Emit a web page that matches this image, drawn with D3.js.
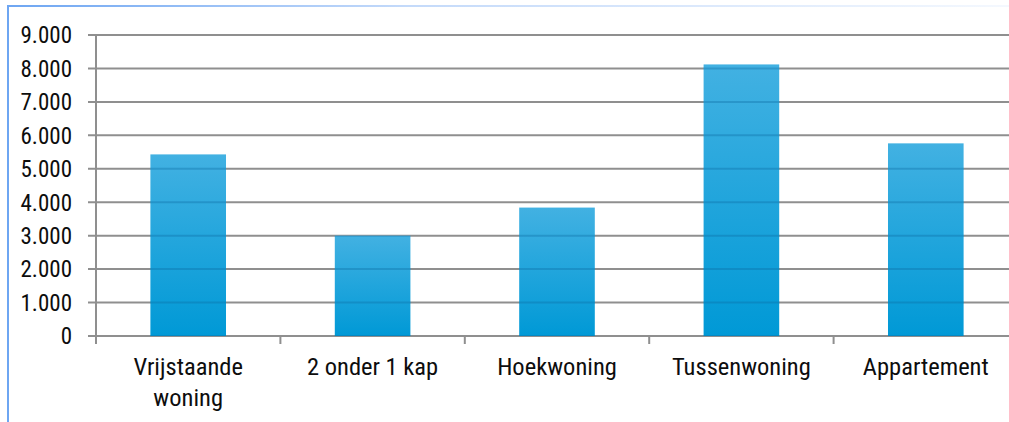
<!DOCTYPE html>
<html>
<head>
<meta charset="utf-8">
<script src="https://cdn.jsdelivr.net/npm/d3@7"></script>
<style>
  body { margin: 0; background: #fff; }
  svg text { font-family: "Liberation Sans Narrow", "Roboto Condensed", "DejaVu Sans Condensed", sans-serif; fill: #0d0d0d; }
</style>
</head>
<body>
<svg id="chart" width="1009" height="422"></svg>
<script>
const categories = ["Vrijstaande woning", "2 onder 1 kap", "Hoekwoning", "Tussenwoning", "Appartement"];
const values = [5430, 3000, 3840, 8120, 5760];
const yTicks = [0, 1000, 2000, 3000, 4000, 5000, 6000, 7000, 8000, 9000];

const svg = d3.select("#chart");
const margin = {top: 35, left: 96, bottom: 86, right: -9};
const width = 1009, height = 422;

// frame: blue left line, top line fading out to the right
const defs = svg.append("defs");
const topGrad = defs.append("linearGradient").attr("id", "topfade");
topGrad.append("stop").attr("offset", "0%").attr("stop-color", "#6ea6f2");
topGrad.append("stop").attr("offset", "40%").attr("stop-color", "#c4dafa");
topGrad.append("stop").attr("offset", "100%").attr("stop-color", "#f4f8fe");
svg.append("rect").attr("x", 8).attr("y", 5).attr("width", 1001).attr("height", 2).attr("fill", "url(#topfade)");
svg.append("rect").attr("x", 7).attr("y", 5).attr("width", 2).attr("height", 417).attr("fill", "#6ea6f2");

const barGrad = defs.append("linearGradient").attr("id", "bar")
  .attr("x1", 0).attr("y1", 0).attr("x2", 0).attr("y2", 1);
barGrad.append("stop").attr("offset", "0%").attr("stop-color", "#42b1e2");
barGrad.append("stop").attr("offset", "100%").attr("stop-color", "#0099d6");

const x = d3.scaleBand()
  .domain(categories)
  .range([margin.left, width - margin.right])
  .paddingInner(0.59)
  .paddingOuter(0.295);

const y = d3.scaleLinear()
  .domain([0, 9000])
  .range([height - margin.bottom, margin.top]);

// gridlines under bars
svg.append("g").selectAll("line")
  .data(yTicks)
  .join("line")
  .attr("x1", margin.left - 8)
  .attr("x2", width)
  .attr("y1", d => y(d))
  .attr("y2", d => y(d))
  .attr("stroke", "#8f8f8f")
  .attr("stroke-width", 2);

// bars
svg.append("g").selectAll("rect")
  .data(values)
  .join("rect")
  .attr("x", (d, i) => x(categories[i]))
  .attr("width", x.bandwidth())
  .attr("y", d => y(d))
  .attr("height", d => y(0) - y(d))
  .attr("fill", "url(#bar)");

// gridlines showing through the bars, clipped to the bars
const clip = defs.append("clipPath").attr("id", "barclip");
clip.selectAll("rect")
  .data(values)
  .join("rect")
  .attr("x", (d, i) => x(categories[i]))
  .attr("width", x.bandwidth())
  .attr("y", d => y(d))
  .attr("height", d => y(0) - y(d));

svg.append("g").attr("clip-path", "url(#barclip)").selectAll("line")
  .data(yTicks)
  .join("line")
  .attr("x1", margin.left)
  .attr("x2", width)
  .attr("y1", d => y(d))
  .attr("y2", d => y(d))
  .attr("stroke", "#0b6aa0")
  .attr("stroke-opacity", 0.35)
  .attr("stroke-width", 2);

// y axis line
svg.append("line")
  .attr("x1", margin.left).attr("x2", margin.left)
  .attr("y1", y(9000)).attr("y2", y(0) + 8)
  .attr("stroke", "#8f8f8f").attr("stroke-width", 2);

// y tick labels
const fmt = d3.formatLocale({decimal: ",", thousands: ".", grouping: [3], currency: ["€", ""]}).format(",");
svg.append("g").selectAll("text")
  .data(yTicks)
  .join("text")
  .attr("x", margin.left - 24)
  .attr("y", d => y(d))
  .attr("dy", "0.36em")
  .attr("text-anchor", "end")
  .attr("font-size", 23)
  .text(d => fmt(d));

// category separators
const bounds = d3.range(1, categories.length + 1).map(i => margin.left + i * x.step());
svg.append("g").selectAll("line")
  .data(bounds)
  .join("line")
  .attr("x1", d => d).attr("x2", d => d)
  .attr("y1", y(0)).attr("y2", y(0) + 8)
  .attr("stroke", "#8f8f8f").attr("stroke-width", 2);

// category labels
const labels = svg.append("g").selectAll("text")
  .data(categories)
  .join("text")
  .attr("text-anchor", "middle")
  .attr("font-size", 24.5)
  .attr("transform", d => `translate(${x(d) + x.bandwidth() / 2},375)`);

labels.each(function(d) {
  const lines = d === "Vrijstaande woning" ? ["Vrijstaande", "woning"] : [d];
  d3.select(this).selectAll("tspan")
    .data(lines)
    .join("tspan")
    .attr("x", 0)
    .attr("y", (l, i) => i * 31)
    .text(l => l);
});
</script>
</body>
</html>
